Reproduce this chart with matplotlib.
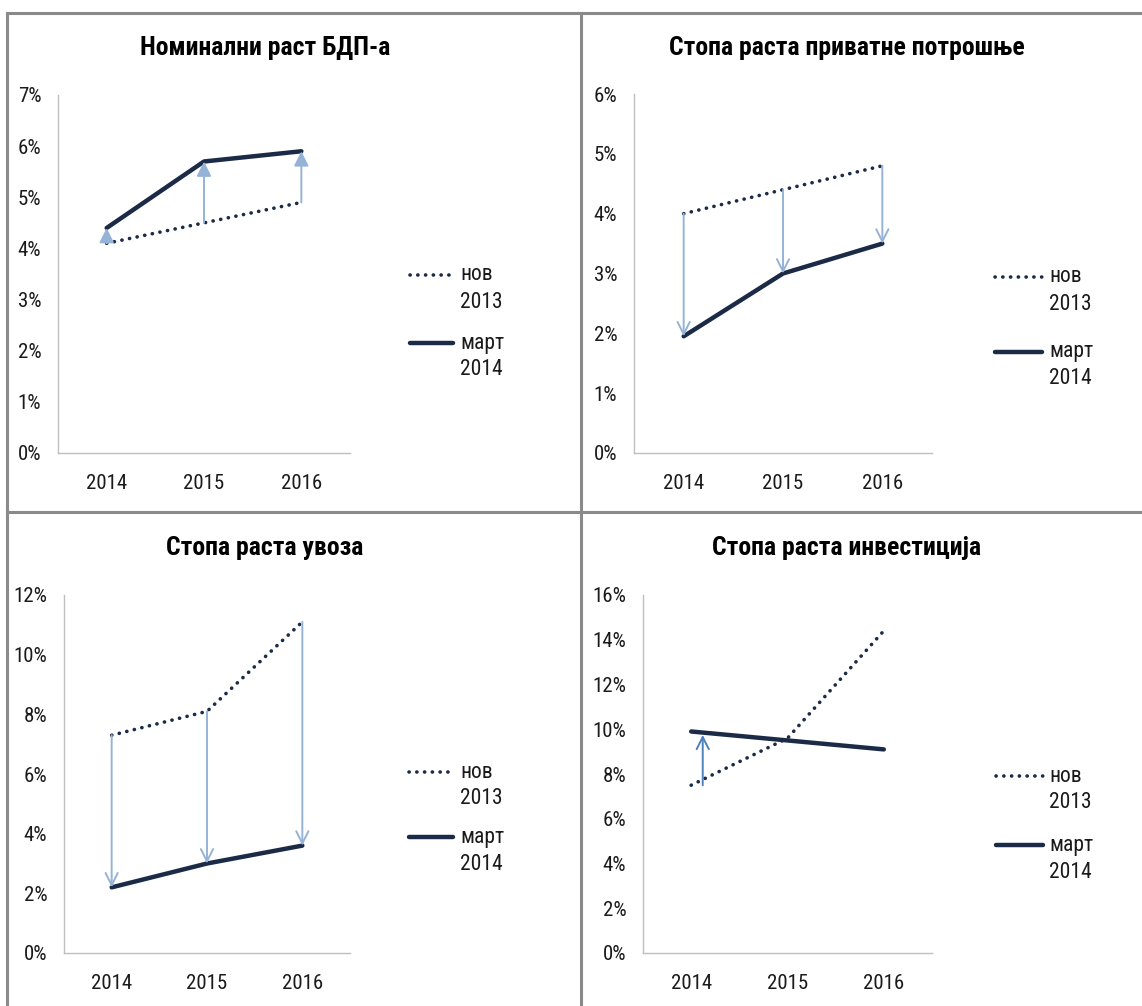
import matplotlib
matplotlib.use("Agg")
import matplotlib.pyplot as plt
from matplotlib.lines import Line2D
from matplotlib.ticker import FuncFormatter
from matplotlib import font_manager

# ---------------- data ----------------
years = ["2014", "2015", "2016"]
series_names = ["нов\n2013", "март\n2014"]

gdp_titles = "Номинални раст БДП-а"
gdp_nov = [4.1, 4.5, 4.9]
gdp_mart = [4.4, 5.7, 5.9]

cons_title = "Стопа раста приватне потрошње"
cons_nov = [4.0, 4.4, 4.8]
cons_mart = [1.95, 3.0, 3.5]

imp_title = "Стопа раста увоза"
imp_nov = [7.3, 8.1, 11.1]
imp_mart = [2.2, 3.0, 3.6]

inv_title = "Стопа раста инвестиција"
inv_nov = [7.5, 9.6, 14.4]
inv_mart = [9.9, 9.5, 9.1]

# ---------------- style ----------------
W, H = 1142, 1006
NAVY = "#1b2a47"
ARROW_LIGHT = "#95b3d7"
ARROW_DARK = "#4f81bd"
GRID_GREY = "#bfbfbf"
BORDER = "#8a8a8a"

installed = {f.name for f in font_manager.fontManager.ttflist}
cands = ["Roboto Condensed", "Liberation Sans Narrow", "DejaVu Sans Condensed",
         "Roboto", "DejaVu Sans"]
FAM = [c for c in cands if c in installed] + ["DejaVu Sans"]
plt.rcParams["font.family"] = FAM

fig = plt.figure(figsize=(W / 100, H / 100), dpi=100)
fig.patch.set_facecolor("white")


def fx(px):
    return px / W


def fy(py):
    return 1 - py / H


def make_axes(x0, x1, ytop, ybot):
    return fig.add_axes([fx(x0), fy(ybot), fx(x1 - x0), (ybot - ytop) / H])


def style_axes(ax, ymax, ystep):
    ax.set_xlim(-0.5, 2.5)
    ax.set_ylim(0, ymax)
    ax.set_xticks(range(len(years)))
    ax.set_xticklabels(years)
    ax.set_yticks([v for v in range(0, ymax + 1, ystep)])
    ax.yaxis.set_major_formatter(FuncFormatter(lambda v, p: f"{int(v)}%"))
    for s in ["top", "right"]:
        ax.spines[s].set_visible(False)
    for s in ["left", "bottom"]:
        ax.spines[s].set_color(GRID_GREY)
        ax.spines[s].set_linewidth(1.0)
    ax.tick_params(axis="both", length=0, labelsize=15, colors="#1a1a1a")
    ax.tick_params(axis="y", pad=12)
    ax.tick_params(axis="x", pad=15)


DOT = dict(lw=2.6, linestyle=(0, (0.05, 2.1)), dash_capstyle="round")
SOLID = dict(lw=3.2, solid_capstyle="round")


def plot_series(ax, nov, mart):
    x = list(range(len(years)))
    ax.plot(x, nov, color=NAVY, **DOT)
    ax.plot(x, mart, color=NAVY, **SOLID)


def arrows(ax, xs, starts, ends, style, color, scale):
    for x, a, b in zip(xs, starts, ends):
        ax.annotate("", xy=(x, b), xytext=(x, a),
                    arrowprops=dict(arrowstyle=style, color=color, lw=1.4,
                                    mutation_scale=scale, shrinkA=0, shrinkB=0))


def legend(x0, x1, xt, ys):
    for name, y, st in zip(series_names, ys, [DOT, SOLID]):
        fig.add_artist(Line2D([fx(x0), fx(x1)], [fy(y), fy(y)], color=NAVY,
                              transform=fig.transFigure, **st))
        first, second = name.split("\n")
        fig.text(fx(xt), fy(y), first, ha="left", va="center", fontsize=15.5,
                 color="#1a1a1a")
        fig.text(fx(xt), fy(y + 27), second, ha="left", va="center",
                 fontsize=15.5, color="#1a1a1a")


def title(xc, yc, text):
    fig.text(fx(xc), fy(yc), text, ha="center", va="center", fontsize=18.5,
             fontweight="bold", color="black")


# ---------------- panel borders ----------------
for xs_, ys_ in [([7, W], [13, 13]), ([7, 7], [13, H]), ([581, 581], [13, H]),
                 ([7, W], [512, 512])]:
    fig.add_artist(Line2D([fx(v) for v in xs_], [fy(v) for v in ys_],
                          color=BORDER, lw=2.2, transform=fig.transFigure))

# ---------------- panel 1: GDP ----------------
ax1 = make_axes(58, 350, 95, 453)
style_axes(ax1, 7, 1)
arrows(ax1, range(3), gdp_nov, gdp_mart, "-|>", ARROW_LIGHT, 22)
plot_series(ax1, gdp_nov, gdp_mart)
title(265, 48, gdp_titles)
legend(410, 453, 460, [275, 343])

# ---------------- panel 2: private consumption ----------------
ax2 = make_axes(634, 932, 94, 453)
style_axes(ax2, 6, 1)
arrows(ax2, range(3), cons_nov, cons_mart, "->", ARROW_LIGHT, 22)
plot_series(ax2, cons_nov, cons_mart)
title(847, 48, cons_title)
legend(995, 1042, 1049, [277, 352])

# ---------------- panel 3: imports ----------------
ax3 = make_axes(64, 350, 595, 953)
style_axes(ax3, 12, 2)
arrows(ax3, range(3), imp_nov, imp_mart, "->", ARROW_LIGHT, 22)
plot_series(ax3, imp_nov, imp_mart)
title(265, 548, imp_title)
legend(409, 453, 460, [772, 837])

# ---------------- panel 4: investment ----------------
ax4 = make_axes(643, 932, 595, 953)
style_axes(ax4, 16, 2)
arrows(ax4, [0.12], inv_nov[:1], [inv_mart[0] - 0.15], "->", ARROW_DARK, 22)
plot_series(ax4, inv_nov, inv_mart)
title(847, 548, inv_title)
legend(996, 1043, 1049, [776, 845])

fig.savefig("out.png", dpi=100, facecolor="white")
